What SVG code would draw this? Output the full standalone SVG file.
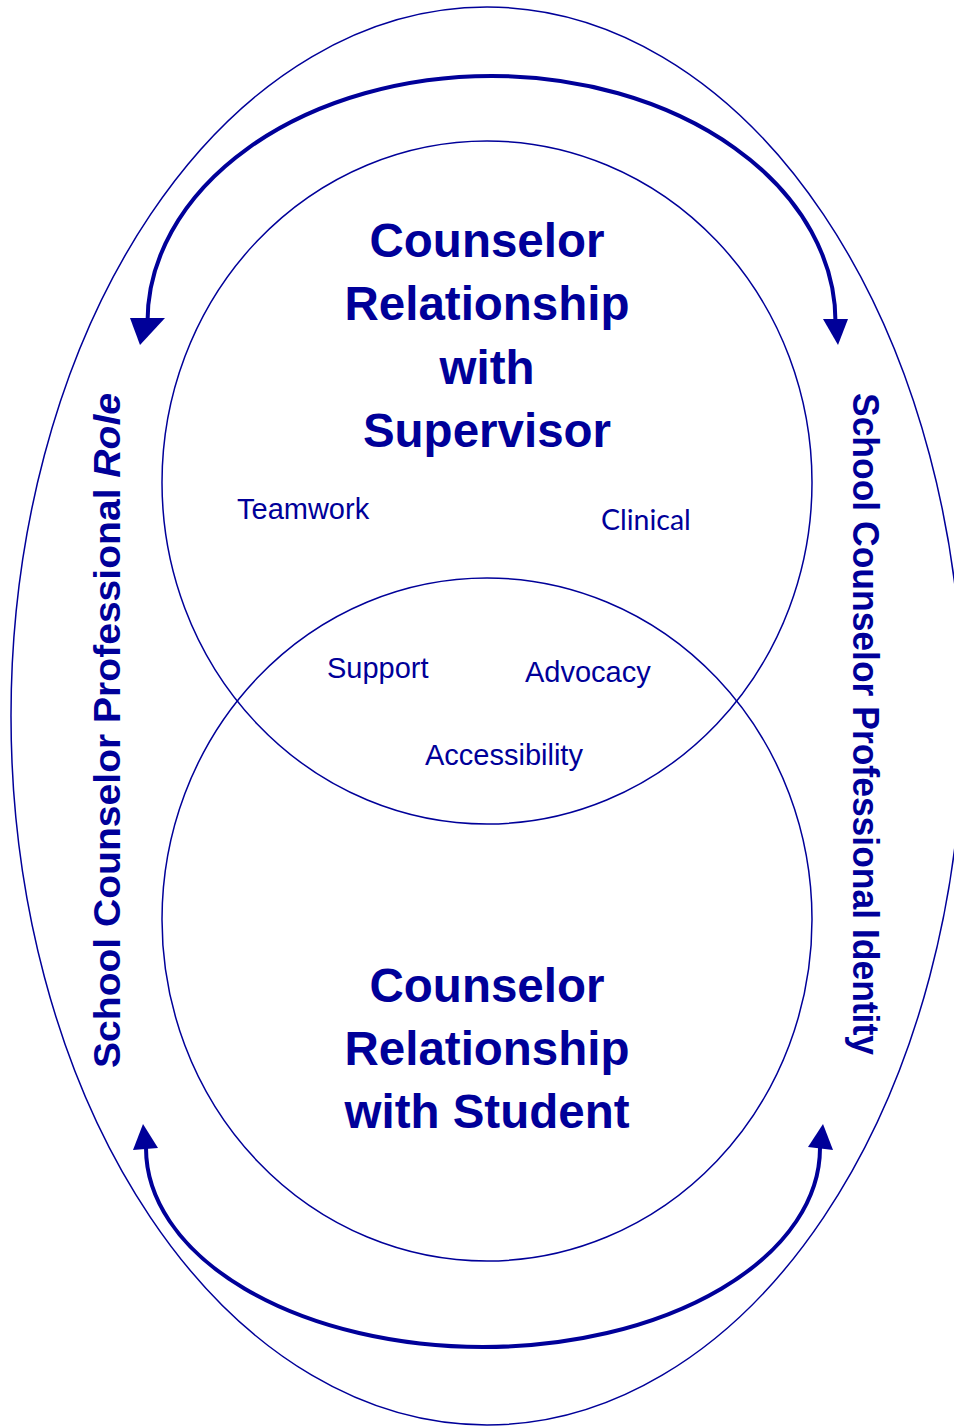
<svg xmlns="http://www.w3.org/2000/svg" width="954" height="1427" viewBox="0 0 954 1427">
  <style>
    .ring { fill: none; stroke: #000099; stroke-width: 1.5; }
    .arc { fill: none; stroke: #000099; stroke-width: 4; }
    .head { fill: #000099; stroke: none; }
    .title { font-family: "Liberation Sans", Arial, sans-serif; font-weight: bold; font-size: 47.5px; fill: #000099; text-anchor: middle; }
    .side { font-family: "Liberation Sans", Arial, sans-serif; font-weight: bold; fill: #000099; }
    .term { font-family: "Liberation Sans", Arial, sans-serif; font-size: 29px; fill: #000099; }
    .term2 { font-family: Lato, "Open Sans", sans-serif; font-size: 28.5px; fill: #000099; }
  </style>
  <rect width="954" height="1427" fill="#ffffff"/>

  <!-- outer boundary -->
  <g id="outer">
    <ellipse class="ring" cx="487" cy="716" rx="476" ry="709"/>
  </g>

  <!-- supervisor relationship -->
  <g id="supervisor">
    <ellipse class="ring" cx="487" cy="482.5" rx="325" ry="341.5"/>
    <text class="title" x="487" y="257">Counselor</text>
    <text class="title" x="487" y="320">Relationship</text>
    <text class="title" x="487" y="384">with</text>
    <text class="title" x="487" y="447">Supervisor</text>
  </g>

  <!-- student relationship -->
  <g id="student">
    <ellipse class="ring" cx="487" cy="919.5" rx="325" ry="341.5"/>
    <text class="title" x="487" y="1002">Counselor</text>
    <text class="title" x="487" y="1065">Relationship</text>
    <text class="title" x="487" y="1128">with Student</text>
  </g>

  <!-- shared terms -->
  <g id="terms">
    <text class="term" x="237" y="519">Teamwork</text>
    <text class="term2" x="601" y="530">Clinical</text>
    <text class="term" x="327" y="678">Support</text>
    <text class="term" x="525" y="682">Advocacy</text>
    <text class="term" x="425" y="765">Accessibility</text>
  </g>

  <!-- side labels -->
  <g id="role">
    <text class="side" font-size="37" transform="translate(120 1068) rotate(-90)" textLength="675" lengthAdjust="spacingAndGlyphs">School Counselor Professional <tspan font-style="italic">Role</tspan></text>
  </g>
  <g id="identity">
    <text class="side" font-size="36" transform="translate(853 393) rotate(90)" textLength="662" lengthAdjust="spacingAndGlyphs">School Counselor Professional Identity</text>
  </g>

  <!-- connectors -->
  <g id="connectors">
    <path class="arc" d="M 147.5 322 A 344 246 0 0 1 835.5 322"/>
    <polygon class="head" points="130,318 165,318 140,345"/>
    <polygon class="head" points="823,319 848,319 838,345"/>
    <path class="arc" d="M 146 1148 A 337 199 0 0 0 820 1148"/>
    <polygon class="head" points="133,1150 158,1148 143,1124"/>
    <polygon class="head" points="808,1147 833,1150 823,1124"/>
  </g>
</svg>
